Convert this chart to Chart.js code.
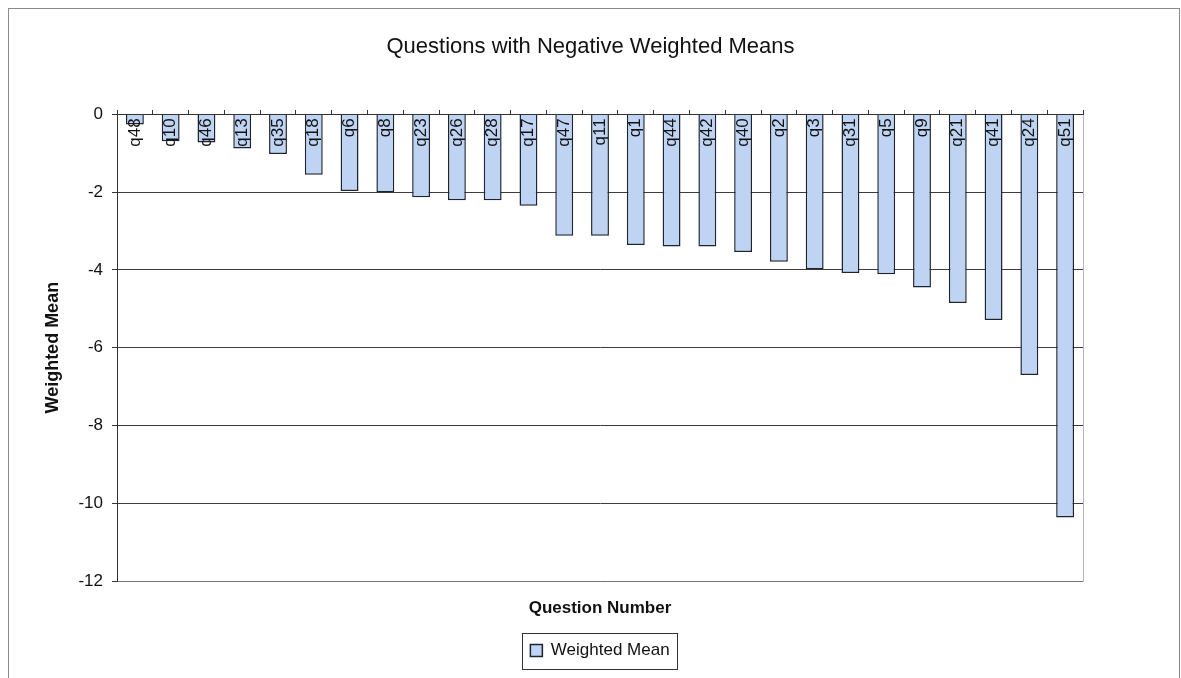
<!DOCTYPE html>
<html>
<head>
<meta charset="utf-8">
<title>Questions with Negative Weighted Means</title>
<script src="https://cdn.jsdelivr.net/npm/chart.js@4/dist/chart.umd.min.js"></script>
<style>
  html, body { margin: 0; padding: 0; background: #ffffff; }
  #wrap { width: 1181px; height: 678px; position: relative; }
</style>
</head>
<body>
<div id="wrap"><canvas id="chart"></canvas></div>
<script>
// Question identifiers, ordered from least to most negative
const questions = ['q48', 'q10', 'q46', 'q13', 'q35', 'q18', 'q6', 'q8', 'q23', 'q26',
  'q28', 'q17', 'q47', 'q11', 'q1', 'q44', 'q42', 'q40', 'q2', 'q3',
  'q31', 'q5', 'q9', 'q21', 'q41', 'q24', 'q51'];

// Weighted mean for each question
const weightedMeans = [-0.26, -0.69, -0.72, -0.88, -1.02, -1.55, -1.97, -2.0, -2.13, -2.21,
  -2.21, -2.35, -3.12, -3.12, -3.36, -3.4, -3.4, -3.54, -3.79, -3.98,
  -4.08, -4.11, -4.45, -4.85, -5.29, -6.7, -10.37];

// Value axis range and step
const yMin = -12;
const yMax = 0;
const yStep = 2;

const FONT = "'Liberation Sans', Arial, Helvetica, sans-serif";

// White page, outer frame and light plot-area frame
const framePlugin = {
  id: 'frame',
  beforeDraw(chart) {
    const { ctx, chartArea: a } = chart;
    ctx.save();
    ctx.fillStyle = '#ffffff';
    ctx.fillRect(0, 0, chart.width, chart.height);
    ctx.strokeStyle = '#8a8a8a';
    ctx.lineWidth = 1;
    ctx.strokeRect(8.5, 8.5, chart.width - 10, chart.height + 20);
    ctx.strokeStyle = '#b8b8b8';
    ctx.strokeRect(Math.round(a.left) + 0.5, Math.round(a.top) + 0.5,
      Math.round(a.right - a.left), Math.round(a.bottom - a.top));
    ctx.restore();
  }
};

// Outline drawn round the legend entry
const legendBoxPlugin = {
  id: 'legendBox',
  afterDraw(chart) {
    const lg = chart.legend;
    if (!lg || !lg.legendHitBoxes || !lg.legendHitBoxes.length) return;
    const h = lg.legendHitBoxes[0];
    const { ctx } = chart;
    ctx.save();
    ctx.strokeStyle = '#333333';
    ctx.lineWidth = 1;
    ctx.strokeRect(Math.round(h.left - 8) + 0.5, Math.round(h.top - 9) + 0.5,
      Math.round(h.width + 16), Math.round(h.height + 19));
    ctx.restore();
  }
};

new Chart(document.getElementById('chart'), {
  type: 'bar',
  data: {
    labels: questions,
    datasets: [{
      label: 'Weighted Mean',
      data: weightedMeans,
      backgroundColor: '#bed4f2',
      borderColor: '#1c2433',
      borderWidth: 1.5,
      barPercentage: 0.5,
      categoryPercentage: 1.0
    }]
  },
  options: {
    responsive: true,
    maintainAspectRatio: false,
    animation: false,
    layout: { padding: { top: 0, left: 0, right: 0, bottom: 9 } },
    scales: {
      x: {
        type: 'category',
        position: { y: 0 },
        offset: true,
        grid: {
          display: true,
          drawOnChartArea: false,
          drawTicks: true,
          tickLength: -5,
          tickColor: '#333333',
          offset: true,
          z: 1
        },
        border: { display: true, color: '#333333', width: 1, z: 1 },
        ticks: {
          autoSkip: false,
          minRotation: 90,
          maxRotation: 90,
          padding: 9,
          color: '#111111',
          font: { family: FONT, size: 17 },
          z: 1
        }
      },
      x2: {
        type: 'category',
        position: 'bottom',
        display: true,
        grid: { display: false, drawTicks: false },
        border: { display: false },
        ticks: { display: false },
        title: {
          display: true,
          text: 'Question Number',
          color: '#111111',
          font: { family: FONT, size: 17, weight: 'bold' },
          padding: { top: 0, bottom: 13 }
        },
        afterFit(scale) { scale.height = 51; }
      },
      y: {
        type: 'linear',
        position: 'left',
        min: yMin,
        max: yMax,
        grid: {
          color: (c) => (c.tick && c.tick.value === yMin ? '#777777' : '#3c3c3c'),
          tickColor: '#333333',
          tickLength: 5,
          lineWidth: 1
        },
        border: { display: true, color: '#333333', width: 1 },
        ticks: {
          stepSize: yStep,
          padding: 9,
          color: '#111111',
          font: { family: FONT, size: 17 }
        },
        title: {
          display: true,
          text: 'Weighted Mean',
          color: '#111111',
          font: { family: FONT, size: 18, weight: 'bold' },
          padding: { top: 42, bottom: 0 }
        },
        afterFit(scale) { scale.width = 117; }
      },
      yRight: {
        type: 'linear',
        position: 'right',
        display: true,
        grid: { display: false, drawTicks: false },
        border: { display: false },
        ticks: { display: false },
        afterFit(scale) { scale.width = 98; }
      }
    },
    plugins: {
      title: {
        display: true,
        text: 'Questions with Negative Weighted Means',
        color: '#111111',
        font: { family: FONT, size: 22, weight: 'normal' },
        padding: { top: 34, bottom: 54 }
      },
      legend: {
        display: true,
        position: 'bottom',
        fullSize: false,
        labels: {
          color: '#111111',
          font: { family: FONT, size: 17 },
          boxWidth: 12,
          boxHeight: 12,
          padding: 10
        }
      },
      tooltip: { enabled: false }
    }
  },
  plugins: [framePlugin, legendBoxPlugin]
});
</script>
</body>
</html>
